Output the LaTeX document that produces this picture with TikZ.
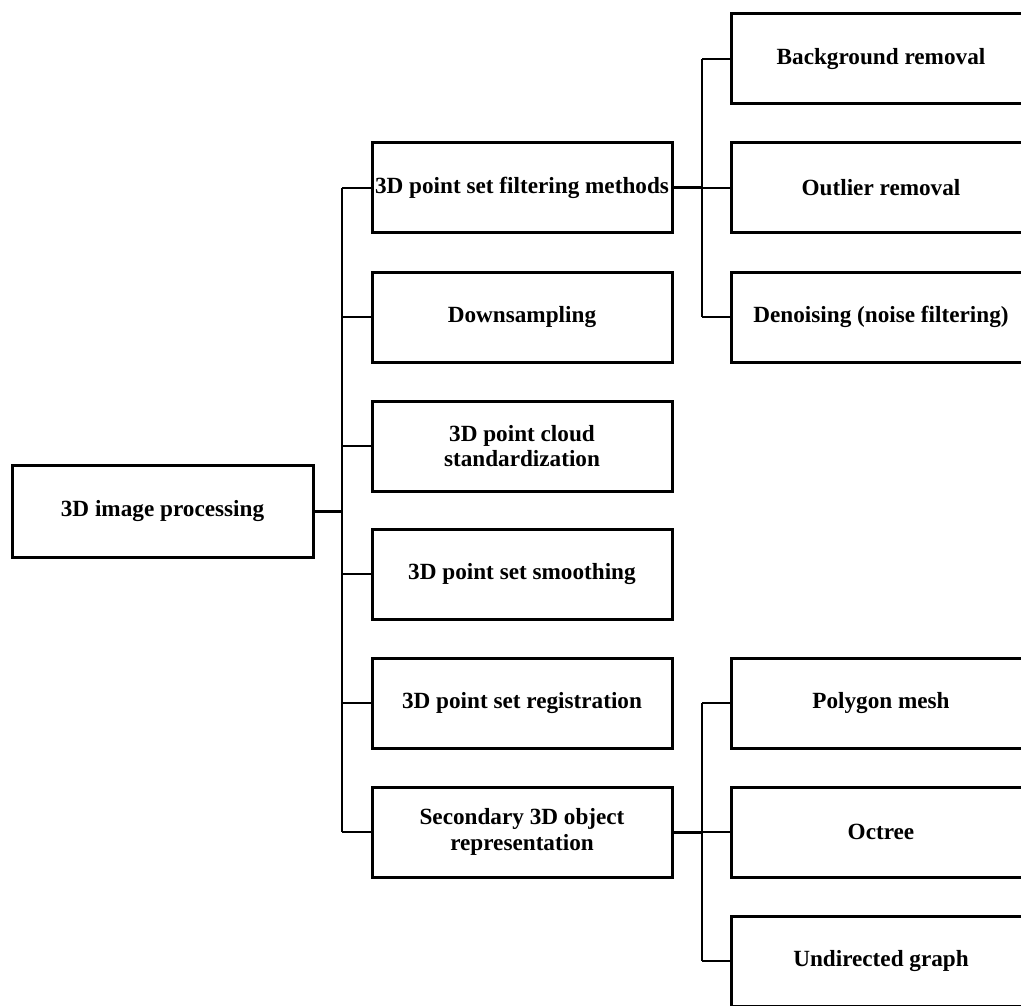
\documentclass[tikz,border=0pt]{standalone}
\usepackage{fontspec}
\setmainfont{Liberation Serif}
\begin{document}
\begin{tikzpicture}[x=1pt,y=-1pt,
  box/.style={draw, line width=3pt, minimum width=300pt, minimum height=90pt, inner sep=0pt, align=center, font=\fontsize{23.2}{25.5}\selectfont\bfseries},
  thin/.style={line width=2pt},
  thick/.style={line width=3pt}]
\useasboundingbox (0,0) rectangle (1021,1006);
\clip (0,0) rectangle (1021,1006);
\node[box, minimum width=301pt, minimum height=92pt] (root) at (162.5,511) {3D image processing};
\node[box] (a1) at (522,188) {3D point set filtering methods};
\node[box] (a2) at (522,317) {Downsampling};
\node[box] (a3) at (522,446) {3D point cloud\\standardization};
\node[box] (a4) at (522,574) {3D point set smoothing};
\node[box] (a5) at (522,703) {3D point set registration};
\node[box] (a6) at (522,832) {Secondary 3D object\\representation};
\node[box] (b1) at (881,59) {Background removal};
\node[box] (b2) at (881,188) {Outlier removal};
\node[box] (b3) at (881,317) {Denoising (noise filtering)};
\node[box] (c1) at (881,703) {Polygon mesh};
\node[box] (c2) at (881,832) {Octree};
\node[box] (c3) at (881,961) {Undirected graph};
\coordinate (tr) at (342,511);
\coordinate (s1) at (702,188);
\coordinate (s2) at (702,832);
\draw[thick] (root.east) -- (tr);
\draw[thin] (tr |- a1.west) -- (tr |- a6.west);
\foreach \n in {a1,a2,a3,a4,a5,a6} \draw[thin] (tr |- \n.west) -- (\n.west);
\draw[thick] (a1.east) -- (s1);
\draw[thin] (s1 |- b1.west) -- (s1 |- b3.west);
\foreach \n in {b1,b2,b3} \draw[thin] (s1 |- \n.west) -- (\n.west);
\draw[thick] (a6.east) -- (s2);
\draw[thin] (s2 |- c1.west) -- (s2 |- c3.west);
\foreach \n in {c1,c2,c3} \draw[thin] (s2 |- \n.west) -- (\n.west);
\end{tikzpicture}
\end{document}
